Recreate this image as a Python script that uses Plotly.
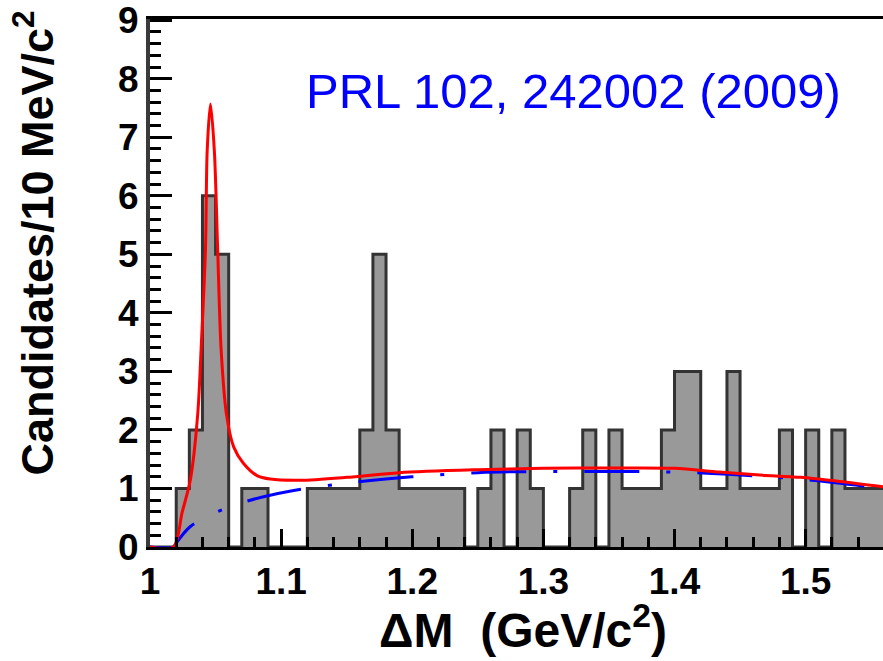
import plotly.graph_objects as go

# Histogram: bin low edges (GeV/c^2), 10 MeV bins, and counts
bin_low = [round(1.00 + 0.01 * i, 2) for i in range(56)]
counts = [0, 0, 1, 2, 6, 5, 0, 1, 1, 0,
          0, 0, 1, 1, 1, 1, 2, 5, 2, 1,
          1, 1, 1, 1, 0, 1, 2, 0, 2, 1,
          0, 0, 1, 2, 0, 2, 1, 1, 1, 2,
          3, 3, 1, 1, 3, 1, 1, 1, 2, 0,
          2, 0, 2, 1, 1, 1]
bin_width = 0.01

# Total fit (red)
fit_x = [1.000, 1.0179, 1.0245, 1.0308, 1.0364, 1.0390, 1.0423, 1.0436, 1.0461,
         1.0491, 1.0516, 1.0542, 1.0583, 1.0638, 1.0712, 1.0816, 1.0918, 1.1146,
         1.150, 1.190, 1.250, 1.300, 1.350, 1.400, 1.434, 1.465, 1.496, 1.526, 1.559]
fit_y = [0.0, 0.0, 0.59, 1.15, 2.27, 3.39, 5.08, 6.76, 7.57,
         6.76, 5.08, 3.39, 2.27, 1.71, 1.43, 1.22, 1.16, 1.14,
         1.19, 1.27, 1.32, 1.345, 1.35, 1.345, 1.28, 1.23, 1.19, 1.12, 1.03]

# Background component (blue dashed)
bkg_x = [1.000, 1.0179, 1.0194, 1.0308, 1.0474, 1.0666, 1.0850, 1.1085, 1.1527,
         1.1997, 1.250, 1.300, 1.350, 1.400, 1.450, 1.500, 1.559]
bkg_y = [0.0, 0.0, 0.05, 0.35, 0.56, 0.73, 0.85, 0.96, 1.10,
         1.20, 1.27, 1.29, 1.29, 1.28, 1.23, 1.15, 1.00]

x_tickvals = [1.0, 1.1, 1.2, 1.3, 1.4, 1.5]
x_ticktext = ["1", "1.1", "1.2", "1.3", "1.4", "1.5"]
y_tickvals = list(range(0, 10))
y_ticktext = [str(v) for v in y_tickvals]

# step outline built from bin edges
step_x = bin_low + [bin_low[-1] + bin_width]
step_y = counts + [counts[-1]]

fig = go.Figure()
fig.add_trace(go.Scatter(
    x=step_x, y=step_y, mode="lines", line_shape="hv",
    line=dict(color="#333333", width=3),
    fill="tozeroy", fillcolor="#999999", hoverinfo="skip", showlegend=False))
fig.add_trace(go.Scatter(
    x=bkg_x, y=bkg_y, mode="lines", line_shape="spline",
    line=dict(color="#0000ff", width=3, dash="55px,27px,4px,27px"),
    showlegend=False))
fig.add_trace(go.Scatter(
    x=fit_x, y=fit_y, mode="lines", line_shape="spline",
    line=dict(color="#ff0000", width=3, smoothing=0.8),
    showlegend=False))

tick_font = dict(family="Liberation Sans, Arial, sans-serif", size=37,
                 color="black", weight="bold")

fig.update_xaxes(
    range=[1.0, 1.559], tickvals=x_tickvals, ticktext=x_ticktext,
    ticks="inside", ticklen=18, tickwidth=3, tickcolor="black",
    minor=dict(dtick=0.02, tick0=1.0, ticks="inside", ticklen=10,
               tickwidth=3, tickcolor="black"),
    showline=True, linecolor="black", linewidth=3, mirror=True,
    showgrid=False, zeroline=False, tickfont=tick_font,
    ticklabeloverflow="allow")
fig.update_yaxes(
    range=[0, 9.02], tickvals=y_tickvals, ticktext=y_ticktext,
    ticks="inside", ticklen=22, tickwidth=3, tickcolor="black",
    minor=dict(dtick=0.2, tick0=0, ticks="inside", ticklen=11,
               tickwidth=3, tickcolor="black"),
    showline=True, linecolor="#3a3a3a", linewidth=4,
    showgrid=False, zeroline=False, tickfont=tick_font,
    ticklabeloverflow="allow")

title_font = dict(family="Liberation Sans, Arial, sans-serif", size=45,
                  color="black", weight="bold")

fig.add_annotation(
    text="Candidates/10 MeV/c<sup>2</sup>", textangle=-90,
    xref="paper", yref="paper", x=-0.158, y=0.575,
    xanchor="center", yanchor="middle", showarrow=False, font=title_font)
fig.add_annotation(
    text="\u0394M  (GeV/c<sup>2</sup>)",
    xref="paper", yref="paper", x=0.509, y=-0.152,
    xanchor="center", yanchor="middle", showarrow=False,
    font=dict(family="Liberation Sans, Arial, sans-serif", size=48,
              color="black", weight="bold"))
fig.add_annotation(
    text="PRL 102, 242002 (2009)",
    xref="paper", yref="paper", x=0.578, y=0.863,
    xanchor="center", yanchor="middle", showarrow=False,
    font=dict(family="Comic Sans MS, Liberation Sans, sans-serif",
              size=49, color="#0000ff"))

fig.update_layout(
    width=883, height=661,
    margin=dict(l=150, r=0, t=14, b=114),
    paper_bgcolor="white", plot_bgcolor="white")

fig.write_html("out.html")
